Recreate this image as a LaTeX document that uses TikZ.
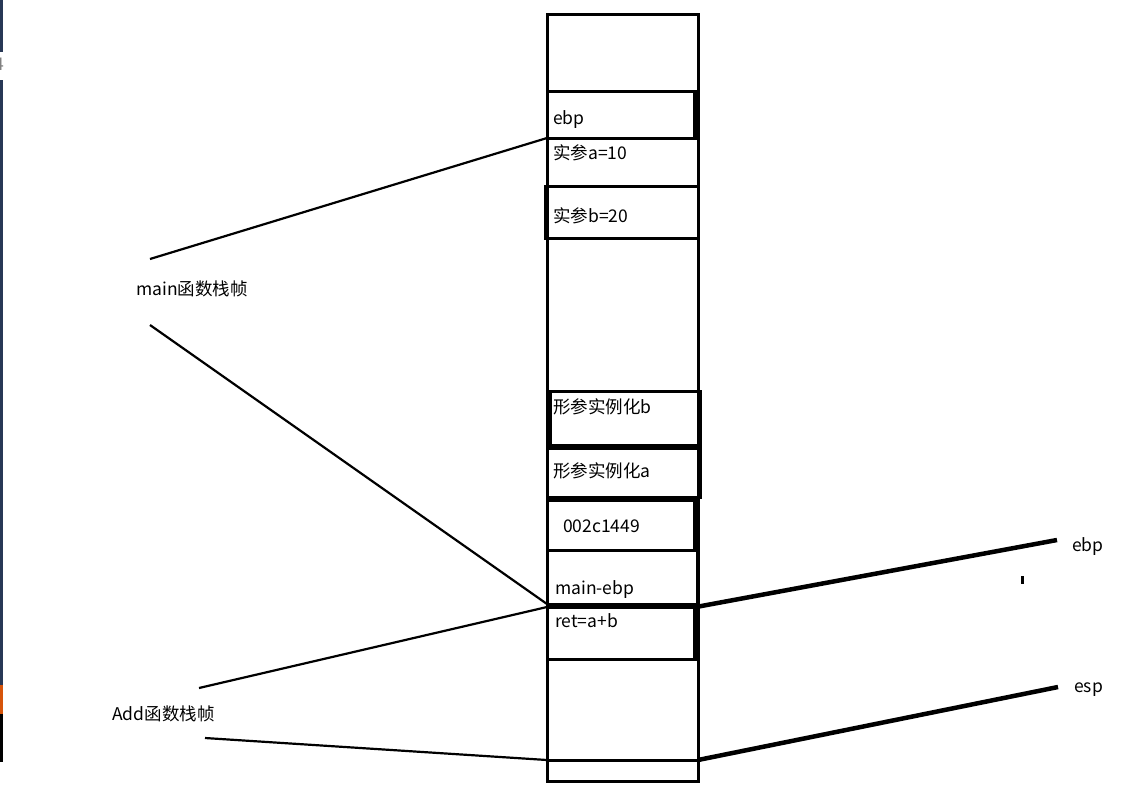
\documentclass[tikz,border=0pt]{standalone}
\usepackage{fontspec}
\setmainfont{Noto Sans CJK SC}
\usetikzlibrary{positioning}

\definecolor{edgebar}{RGB}{40,56,86}
\definecolor{edgeorange}{RGB}{214,84,10}

\tikzset{
  cell/.style={draw, line width=3pt, inner sep=0pt, outer sep=0pt, anchor=north west},
  txt/.style={anchor=west, inner sep=0pt, font=\fontsize{17.5}{20}\selectfont},
  link/.style={line width=2.2pt},
  ptr/.style={line width=4.5pt}
}

\begin{document}
\begin{tikzpicture}[x=1pt,y=-1pt]
  \useasboundingbox (0,0) rectangle (1122,807);
  % screenshot edge
  \begin{scope}
    \clip (0,0) rectangle (1122,807);
    \node[txt, text=gray] (edgenum) at (-6,64) {4};
  \end{scope}
  \fill[edgebar] (0,0) rectangle (2.5,52);
  \fill[edgebar] (0,80) rectangle (2.5,685);
  \fill[edgeorange] (0,685) rectangle (2.5,714);
  \fill[black] (0,714) rectangle (2.5,762);

  % the stack
  \node[cell, minimum width=151pt, minimum height=767pt] (stack) at (547,14) {};
  \node[cell, minimum width=149pt, minimum height=47pt] (ebpcell) at (547,91) {};
  \draw[line width=4.5pt] (695,91) -- (695,138);
  \node[cell, minimum width=153pt, minimum height=52pt] (bcell) at (545,186) {};
  \node[cell, minimum width=150pt, minimum height=54pt] (pbcell) at (550,391) {};
  \node[cell, minimum width=153pt, minimum height=49pt] (pacell) at (547,448) {};
  \node[cell, minimum width=149pt, minimum height=50pt] (retaddr) at (547,500) {};
  \node[cell, minimum width=150pt, minimum height=54pt] (mebp) at (547,550) {};
  \node[cell, minimum width=149pt, minimum height=52pt] (retcell) at (547,607) {};
  \draw[line width=4.5pt] (695,500) -- (695,550);
  \draw[line width=4.5pt] (695,607) -- (695,659);
  \node[cell, minimum width=151pt, minimum height=21pt] (topcell) at (547,760) {};

  % cell texts
  \node[txt] (ebptxt) at (553,120) {ebp};
  \node[txt] (atxt) at (553,153) {实参a=10};
  \node[txt] (btxt) at (553,216) {实参b=20};
  \node[txt] (pbtxt) at (553,407) {形参实例化b};
  \node[txt] (patxt) at (553,471) {形参实例化a};
  \node[txt] (addrtxt) at (563,526) {002c1449};
  \node[txt] (mebptxt) at (555,590) {main-ebp};
  \node[txt] (rettxt) at (555,621) {ret=a+b};

  % frame labels
  \node[txt] (mainlbl) at (136,289) {main函数栈帧};
  \node[txt] (addlbl) at (112,714) {Add函数栈帧};
  \coordinate (m1) at (150,259);
  \coordinate (m2) at (150,325);
  \coordinate (a1) at (199,688);
  \coordinate (a2) at (205,738);
  \draw[link] (m1) -- (ebpcell.south west);
  \draw[link] (m2) -- (mebp.south west);
  \draw[link] (a1) -- (retcell.north west);
  \draw[link] (a2) -- (topcell.north west);

  % registers
  \coordinate (ebpend) at (1057,540);
  \coordinate (espend) at (1058,687);
  \node[txt] (ebplbl) at (1072,547) {ebp};
  \node[txt] (esplbl) at (1074,690) {esp};
  \draw[ptr] (retcell.north east) -- (ebpend);
  \draw[ptr] (topcell.north east) -- (espend);
  \fill (1021,576) rectangle (1024,584);
\end{tikzpicture}
\end{document}
